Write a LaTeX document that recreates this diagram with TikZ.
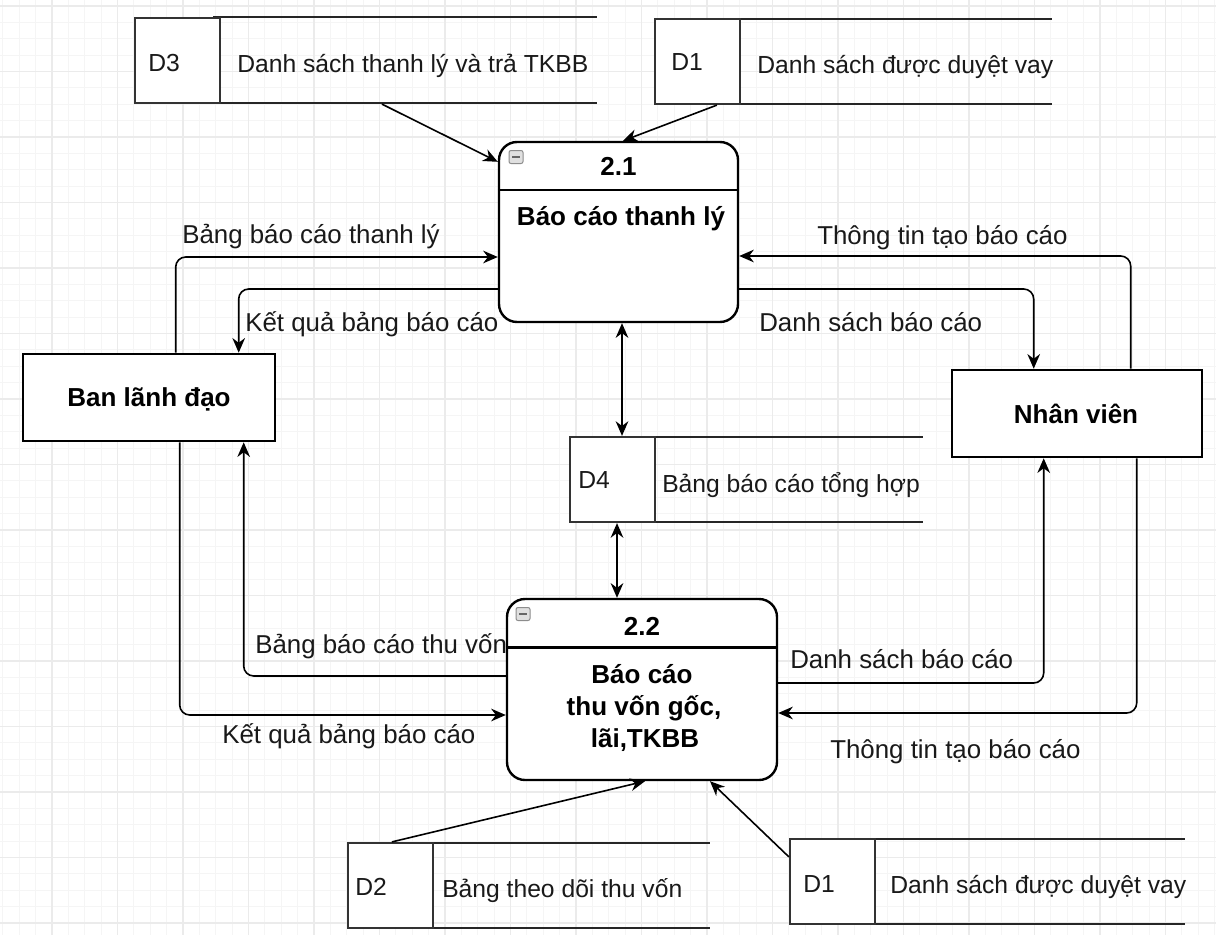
\documentclass[tikz,border=0pt]{standalone}
\usepackage{fontspec}
\setmainfont{Liberation Sans}
\usetikzlibrary{arrows.meta,calc}
\newdimen\px \px=0.75pt
\tikzset{
  gridminor/.style={draw=black!4, line width=1\px},
  gridmajor/.style={draw=black!8, line width=1.2\px},
  proc/.style={draw, line width=2.4\px, rounded corners=18\px, inner sep=0pt, fill=none},
  entity/.style={draw, line width=2.6\px, inner sep=0pt},
  storebox/.style={draw=black!80, line width=2.2\px, minimum width=85\px, minimum height=85\px, inner sep=0pt},
  storeline/.style={draw=black!85, line width=2.2\px},
  tip/.tip={Stealth[length=11pt,width=9.5pt]},
  flow/.style={draw, line width=1.6\px, rounded corners=10\px, -tip},
  biflow/.style={draw, line width=1.6\px, tip-tip},
  lbl/.style={font=\fontsize{18.5}{22}\selectfont, inner sep=0pt, anchor=base west, text=black!90},
  flbl/.style={lbl, font=\fontsize{19.4}{23}\selectfont},
  ttl/.style={font=\bfseries\fontsize{19.5}{24}\selectfont, inner sep=0pt, anchor=base, text=black},
  icon/.style={draw=black!45, fill=black!12, rounded corners=2\px, line width=1\px, minimum width=14\px, minimum height=13\px, inner sep=0pt},
}
\begin{document}
\begin{tikzpicture}[x=0.75pt,y=-0.75pt]
\useasboundingbox (0,0) rectangle (1216,935);
\fill[white] (0,0) rectangle (1216,935);
% grid
\foreach \i in {0,...,75} {
  \pgfmathsetmacro{\gx}{-13.5+16.375*\i}
  \draw[gridminor] (\gx,0) -- (\gx,935);
}
\foreach \j in {0,...,58} {
  \pgfmathsetmacro{\gy}{-10.375+16.375*\j}
  \draw[gridminor] (0,\gy) -- (1216,\gy);
}
\foreach \i in {0,...,19} {
  \pgfmathsetmacro{\gx}{-13.5+65.5*\i}
  \draw[gridmajor] (\gx,0) -- (\gx,935);
}
\foreach \j in {0,...,15} {
  \pgfmathsetmacro{\gy}{6+65.5*\j}
  \draw[gridmajor] (0,\gy) -- (1216,\gy);
}

% processes
\node[proc, minimum width=239\px, minimum height=180\px, fill=white] (p1) at (618.5,232) {};
\draw[line width=2.4\px] ($(p1.north west)+(0,49)$) coordinate (p1dl) -- ($(p1.north east)+(0,49)$) coordinate (p1dr);
\node[icon] (p1i) at (516,157) {};
\draw[line width=1.6\px, black!60] ($(p1i.west)+(3.5,0)$) -- ($(p1i.east)+(-3.5,0)$);
\node[ttl] (p1n) at (618.5,175) {2.1};
\node[ttl] (p1t) at (621,225) {Báo cáo thanh lý};

\node[proc, minimum width=270\px, minimum height=181\px, fill=white] (p2) at (642,689.5) {};
\draw[line width=2.4\px] ($(p2.north west)+(0,49.5)$) coordinate (p2dl) -- ($(p2.north east)+(0,49.5)$) coordinate (p2dr);
\node[icon] (p2i) at (523,614) {};
\draw[line width=1.6\px, black!60] ($(p2i.west)+(3.5,0)$) -- ($(p2i.east)+(-3.5,0)$);
\node[ttl] (p2n) at (642,635) {2.2};
\node[ttl] (p2a) at (642,683) {Báo cáo};
\node[ttl] (p2b) at (644,715) {thu vốn gốc,};
\node[ttl] (p2c) at (645,747) {lãi,TKBB};

% entities
\node[entity, minimum width=252\px, minimum height=87\px, fill=white] (ban) at (149,397.5) {};
\node[ttl] (bant) at (149,406) {Ban lãnh đạo};
\node[entity, minimum width=250\px, minimum height=87\px, fill=white] (nv) at (1077,413.5) {};
\node[ttl] (nvt) at (1076,423) {Nhân viên};

% stores
\draw[storeline] (213,17) -- (597,17);
\draw[storeline] (213,103) -- (597,103);
\node[storebox, fill=white] (d3) at (177.5,60.5) {};
\node[lbl] (d3n) at (148,71) {D3};
\node[lbl] (d3t) at (237,72) {Danh sách thanh lý và trả TKBB};

\draw[storeline] (733,19) -- (1052,19);
\draw[storeline] (733,104) -- (1052,104);
\node[storebox, fill=white] (d1a) at (697.5,61.5) {};
\node[lbl] (d1an) at (671,70) {D1};
\node[lbl] (d1at) at (757,73) {Danh sách được duyệt vay};

\draw[storeline] (630,437) -- (923,437);
\draw[storeline] (630,522) -- (923,522);
\node[storebox, fill=white] (d4) at (612.5,479.5) {};
\node[lbl] (d4n) at (578,488) {D4};
\node[lbl] (d4t) at (662,492) {Bảng báo cáo tổng hợp};

\draw[storeline] (410,843) -- (710,843);
\draw[storeline] (410,928) -- (710,928);
\node[storebox, fill=white] (d2) at (390.5,885.5) {};
\node[lbl] (d2n) at (355,895) {D2};
\node[lbl] (d2t) at (442,897) {Bảng theo dõi thu vốn};

\draw[storeline] (868,839) -- (1185,839);
\draw[storeline] (868,924) -- (1185,924);
\node[storebox, fill=white] (d1b) at (832.5,881.5) {};
\node[lbl] (d1bn) at (803,892) {D1};
\node[lbl] (d1bt) at (890,893) {Danh sách được duyệt vay};

% flows
\draw[flow] ($(ban.north west)+(154,0)$) |- ($(p1.west)+(0,25)$);
\draw[flow] ($(p1.west)+(0,57)$) -| ($(ban.north west)+(217,0)$);
\draw[flow] ($(nv.north west)+(180,0)$) |- ($(p1.east)+(0,24)$);
\draw[flow] ($(p1.east)+(0,57)$) -| ($(nv.north west)+(83,0)$);
\draw[biflow] ($(p1.south)+(3.5,0)$) -- ($(d4.north)+(9.5,0)$);
\draw[biflow] ($(d4.south)+(4.5,0)$) -- ($(p2.north)+(-25,0)$);
\draw[flow] ($(p2.west)+(0,-13.5)$) -| ($(ban.south west)+(222,0)$);
\draw[flow] ($(ban.south west)+(158,0)$) |- ($(p2.west)+(0,25.5)$);
\draw[flow] ($(p2.east)+(0,-6.5)$) -| ($(nv.south west)+(93,0)$);
\draw[flow] ($(nv.south west)+(186,0)$) |- ($(p2.east)+(0,23.5)$);
\draw[flow] ($(d3.south west)+(248,0)$) -- ($(p1.north west)+(0,21)$);
\draw[flow] ($(d1a.south west)+(63,0)$) -- ($(p1.north)+(4.5,0)$);
\draw[flow] ($(d2.north west)+(45,0)$) -- ($(p2.south)+(3,0)$);
\draw[flow] ($(d1b.north west)+(0,19)$) -- ($(p2.south)+(68,0)$);

% flow labels
\node[flbl] (l1) at (182,243) {Bảng báo cáo thanh lý};
\node[flbl] (l2) at (245,331) {Kết quả bảng báo cáo};
\node[flbl] (l3) at (817,244) {Thông tin tạo báo cáo};
\node[flbl] (l4) at (759,331) {Danh sách báo cáo};
\node[flbl] (l5) at (255,653) {Bảng báo cáo thu vốn};
\node[flbl] (l6) at (222,743) {Kết quả bảng báo cáo};
\node[flbl] (l7) at (790,668) {Danh sách báo cáo};
\node[flbl] (l8) at (830,758) {Thông tin tạo báo cáo};
\end{tikzpicture}
\end{document}
